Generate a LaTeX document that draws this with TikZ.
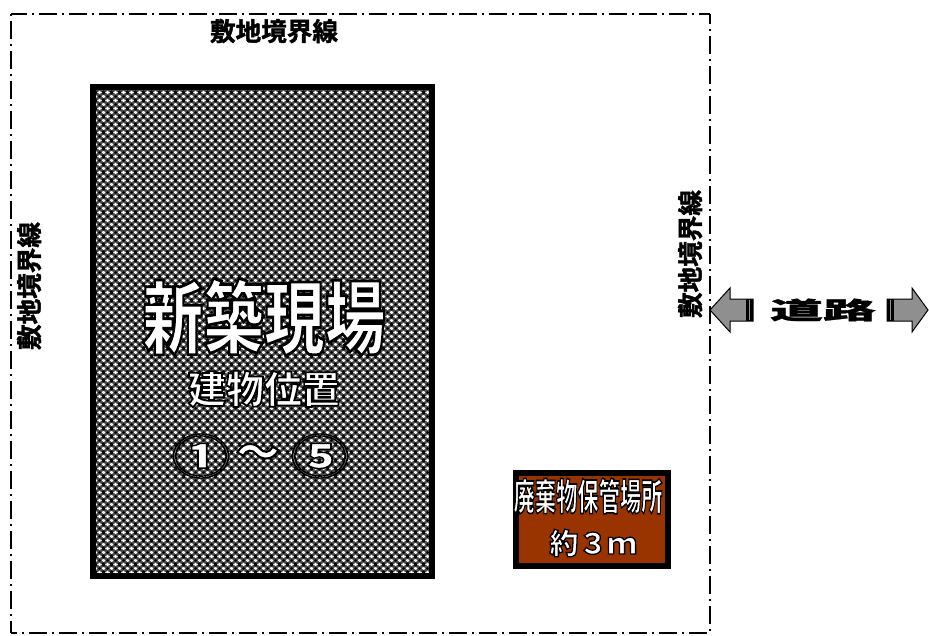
\documentclass[tikz,border=0pt]{standalone}
\usepackage{fontspec}
\usetikzlibrary{patterns}
\setmainfont{Liberation Sans}
\newfontfamily\cjkbold[FakeBold=1.5]{Noto Sans CJK JP Bold}
\newfontfamily\cjkblack[FakeBold=1]{Noto Sans CJK JP Black}
\newfontfamily\cjkoutline[FakeBold=3.5]{Noto Sans CJK JP Black}
\newfontfamily\cjksmall[FakeBold=4.5]{Noto Sans CJK JP Black}
\newfontfamily\cjkring[FakeBold=3]{Noto Sans CJK JP Black}
\newcommand{\outlined}[1]{\color{white}\special{pdf:code 0 G}#1}
\definecolor{storagefill}{HTML}{993300}
\definecolor{roadgray}{HTML}{8F8F8F}
\pgfdeclarepatterninherentlycolored{sitemesh}{\pgfqpoint{0pt}{0pt}}{\pgfqpoint{8pt}{8pt}}{\pgfqpoint{8pt}{8pt}}{%
\pgfsetfillcolor{black!70}
\pgfpathrectangle{\pgfqpoint{0pt}{0pt}}{\pgfqpoint{8pt}{8pt}}
\pgfusepath{fill}
\pgfsetfillcolor{black}
\pgfpathcircle{\pgfqpoint{0pt}{0pt}}{1.6pt}
\pgfpathcircle{\pgfqpoint{8pt}{0pt}}{1.6pt}
\pgfpathcircle{\pgfqpoint{0pt}{8pt}}{1.6pt}
\pgfpathcircle{\pgfqpoint{8pt}{8pt}}{1.6pt}
\pgfpathcircle{\pgfqpoint{4pt}{4pt}}{1.6pt}
\pgfusepath{fill}
\pgfsetfillcolor{white}
\pgfpathcircle{\pgfqpoint{4pt}{0pt}}{1.5pt}
\pgfpathcircle{\pgfqpoint{4pt}{8pt}}{1.5pt}
\pgfpathcircle{\pgfqpoint{0pt}{4pt}}{1.5pt}
\pgfpathcircle{\pgfqpoint{8pt}{4pt}}{1.5pt}
\pgfusepath{fill}}
\tikzset{
boundary/.style={line width=1.7pt,dash pattern=on 18pt off 5pt on 2pt off 5pt},
boundarytext/.style={font=\cjkbold\fontsize{25.6}{26}\selectfont,inner sep=0pt},
whitetext/.style={inner sep=0pt},
roomtext/.style={inner sep=0pt,yscale=0.8,transform shape,font=\cjkring\fontsize{58}{58}\selectfont},
roadarrow/.style={draw=black,fill=roadgray,line width=1pt},
}
\begin{document}
\begin{tikzpicture}[x=1pt,y=-1pt]
\useasboundingbox (0,0) rectangle (929,635);

% site boundary
\coordinate (tl) at (11,14);
\coordinate (tr) at (710,14);
\coordinate (bl) at (11,633);
\coordinate (br) at (710,633);
\draw[boundary,dash phase=2pt] (tl) -- (tr);
\draw[boundary,dash phase=23pt] (tl) -- (bl);
\draw[boundary,dash phase=8pt] (tr) -- (br);
\draw[boundary,dash phase=12pt] (bl) -- (br);
\node[boundarytext] (topline) at (274,31) {敷地境界線};
\node[boundarytext,rotate=90] (leftline) at (29,286) {敷地境界線};
\node[boundarytext,rotate=90] (rightline) at (690,254) {敷地境界線};

% building
\node[draw=black,line width=6pt,pattern=sitemesh,minimum width=339pt,minimum height=489pt,inner sep=0pt] (building) at (262.5,331.5) {};
\node[whitetext,xscale=0.76,transform shape,font=\cjkoutline\fontsize{80}{80}\selectfont] (sitename) at (264,317) {\outlined{新築現場}};
\node[whitetext,font=\cjksmall\fontsize{38}{38}\selectfont] (position) at (264,389) {\outlined{建物位置}};
\node[roomtext] (roomfirst) at (201,456) {\outlined{①}};
\node[whitetext,font=\cjksmall\fontsize{44}{44}\selectfont] (roomdash) at (258,456) {\outlined{～}};
\node[roomtext] (roomlast) at (320,456) {\outlined{⑤}};

% waste storage
\node[draw=black,line width=6pt,fill=storagefill,minimum width=152pt,minimum height=93pt,inner sep=0pt] (storage) at (592,519.5) {};
\node[whitetext,xscale=0.575,transform shape,font=\cjksmall\fontsize{37}{37}\selectfont] (storagename) at (588,496) {\outlined{廃棄物保管場所}};
\node[whitetext,font=\cjksmall\fontsize{29}{29}\selectfont] (storagesize) at (593,543) {\outlined{約３ｍ}};

% road
\node[xscale=2.2,transform shape,font=\cjkblack\fontsize{24}{24}\selectfont,inner sep=0pt] (road) at (823,310) {道路};
\draw[roadarrow] (710,310) -- (730,288) -- (730,299) -- (753,299) -- (753,321) -- (730,321) -- (730,332) -- cycle;
\fill (746,299) rectangle (753,321);
\fill[roadgray] (748.5,300) rectangle (750,320);
\draw[roadarrow] (928,310) -- (912,288) -- (912,299) -- (887,299) -- (887,321) -- (912,321) -- (912,332) -- cycle;
\fill (887,299) rectangle (894,321);
\fill[roadgray] (889.5,300) rectangle (891,320);
\end{tikzpicture}
\end{document}
